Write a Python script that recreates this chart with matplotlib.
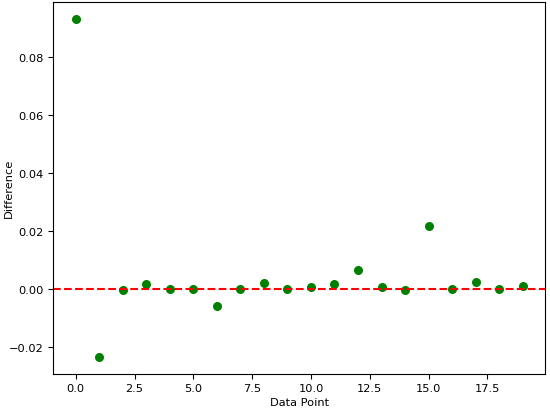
import numpy as np
import matplotlib
matplotlib.use('Agg')
import matplotlib.pyplot as plt

points = np.arange(20)
diff = [0.0932, -0.0234, -0.0004, 0.0017, 0.0000, -0.0001, -0.0058, 0.0000,
        0.0019, -0.0001, 0.0008, 0.0018, 0.0064, 0.0008, -0.0004, 0.0217,
        0.0001, 0.0025, 0.0001, 0.0010]

plt.rcParams['font.size'] = 8.2
fig, ax = plt.subplots(figsize=(5.5, 4.1), dpi=100)
fig.subplots_adjust(left=0.097, right=0.991, top=0.993, bottom=0.086)
ax.scatter(points, diff, color='green', s=30)
ax.axhline(0, color='red', linestyle='--')
ax.set_xlabel('Data Point')
ax.set_ylabel('Difference')
ax.xaxis.set_label_coords(0.5, -0.062)
ax.yaxis.set_label_coords(-0.08, 0.5)
fig.savefig('out.png')
